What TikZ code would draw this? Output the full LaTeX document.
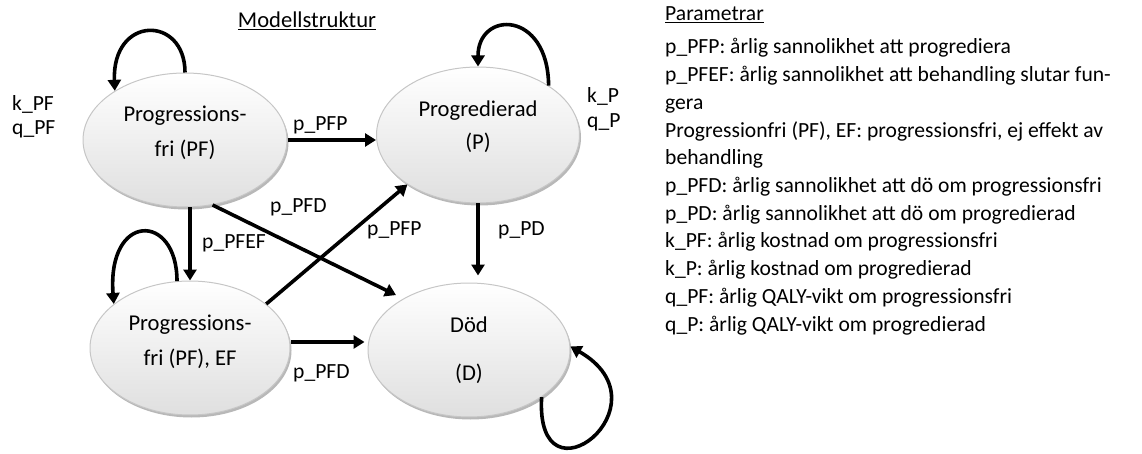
\documentclass[tikz,border=0pt]{standalone}
\usepackage{fontspec}
\setmainfont{Carlito}
\usetikzlibrary{arrows.meta,shadows,calc,shapes.geometric}
\begin{document}
\begin{tikzpicture}[x=1pt,y=1pt,
  every node/.style={font=\fontsize{21.6}{27.7}\selectfont},
  state/.style={ellipse, draw=gray!45, line width=1pt, top color=white, bottom color=gray!25,
    drop shadow={shadow xshift=1.5pt, shadow yshift=-2.5pt, fill=gray!70, opacity=0.8},
    inner sep=0pt},
  txt/.style={anchor=base, inner sep=0pt, font=\fontsize{22.6}{27.7}\selectfont},
  lbl/.style={anchor=base west, inner sep=0pt},
  arr/.style={line width=3.6pt, -{Triangle[length=11pt,width=13pt]}}
]
\useasboundingbox (0,0) rectangle (1142,-454);
% states
\node[state, minimum width=204pt, minimum height=134pt] (PF) at (185,-140) {};
\node[state, minimum width=203pt, minimum height=136pt] (P) at (478,-135) {};
\node[state, minimum width=200pt, minimum height=134pt] (PFEF) at (190,-348) {};
\node[state, minimum width=202pt, minimum height=134pt] (D) at (469,-350) {};
% state texts
\node[txt] (PFt1) at (185,-122) {Progressions-};
\node[txt] (PFt2) at (185,-157) {fri (PF)};
\node[txt] (Pt1) at (478,-117) {Progredierad};
\node[txt] (Pt2) at (478,-150) {(P)};
\node[txt] (EFt1) at (190,-330) {Progressions-};
\node[txt] (EFt2) at (190,-365) {fri (PF), EF};
\node[txt] (Dt1) at (469,-332) {Död};
\node[txt] (Dt2) at (469,-380) {(D)};
% title
\node[txt] (title) at (307,-28) {\underline{Modellstruktur}};
% transitions
\draw[arr] (PF.east) -- (PF.east -| P.west);
\draw[arr] (PFEF.north |- PF.south) -- (PFEF.north);
\draw[arr, shorten >=8pt] (PF.-67) -- (D.142);
\draw[arr] (PFEF.30) -- (P.215);
\draw[arr, shorten >=3pt] ($(PFEF.east)+(0,6)$) coordinate (a1) -- (a1 -| D.west);
\draw[arr, shorten >=7pt] (P.south) -- (P.south |- D.north);
% loops
\draw[arr] (PF.north) .. controls (185,-15) and (112,-15) .. (PF.145);
\draw[arr] (P.35) .. controls (548,-10) and (478,-10) .. (P.north);
\draw[arr] (PFEF.101) .. controls (177,-212) and (107,-212) .. (PFEF.150);
\draw[arr] (D.-33) .. controls (535,-512) and (672,-405) .. (D.2);
% edge labels
\node[lbl] (l1) at (293,-131) {p\_PFP};
\node[lbl] (l2) at (270,-213) {p\_PFD};
\node[lbl] (l3) at (202,-248) {p\_PFEF};
\node[lbl] (l4) at (367,-236) {p\_PFP};
\node[lbl] (l5) at (498,-236) {p\_PD};
\node[lbl] (l6) at (293,-378) {p\_PFD};
\node[lbl] (k1) at (12,-111) {k\_PF};
\node[lbl] (q1) at (12,-135) {q\_PF};
\node[lbl] (k2) at (587,-103) {k\_P};
\node[lbl] (q2) at (587,-128) {q\_P};
% parameters
\node[lbl] (par) at (665,-21) {\underline{Parametrar}};
\node[lbl] (r1) at (665,-54) {p\_PFP: årlig sannolikhet att progrediera};
\node[lbl] (r2) at (665,-81.7) {p\_PFEF: årlig sannolikhet att behandling slutar fun-};
\node[lbl] (r3) at (665,-109.4) {gera};
\node[lbl] (r4) at (665,-137.1) {Progressionfri (PF), EF: progressionsfri, ej effekt av};
\node[lbl] (r5) at (665,-164.8) {behandling};
\node[lbl] (r6) at (665,-192.5) {p\_PFD: årlig sannolikhet att dö om progressionsfri};
\node[lbl] (r7) at (665,-220.2) {p\_PD: årlig sannolikhet att dö om progredierad};
\node[lbl] (r8) at (665,-247.9) {k\_PF: årlig kostnad om progressionsfri};
\node[lbl] (r9) at (665,-275.6) {k\_P: årlig kostnad om progredierad};
\node[lbl] (r10) at (665,-303.3) {q\_PF: årlig QALY-vikt om progressionsfri};
\node[lbl] (r11) at (665,-331) {q\_P: årlig QALY-vikt om progredierad};
\end{tikzpicture}
\end{document}
